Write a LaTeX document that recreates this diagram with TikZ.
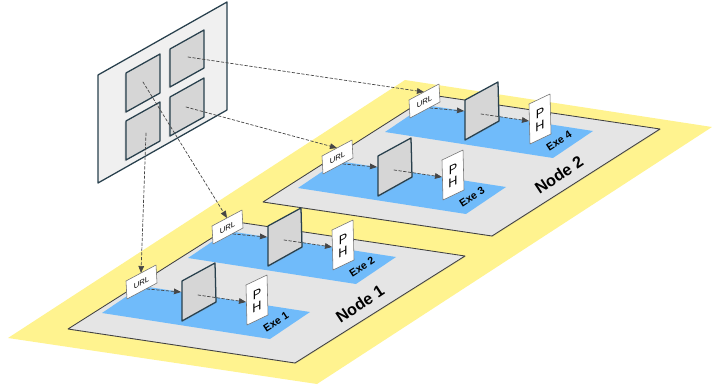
\documentclass[tikz,border=0pt]{standalone}
\usepackage{fontspec}
\setmainfont{Liberation Sans}
\usepackage{tikz}
\usepackage{tkz-euclide}
\usepackage{xcolor}
\usetikzlibrary{arrows.meta,shadows}

\definecolor{bandyellow}{RGB}{255,243,143}
\definecolor{plategray}{RGB}{229,229,229}
\definecolor{exeblue}{RGB}{112,187,250}
\definecolor{panelgray}{RGB}{214,214,214}
\definecolor{slate}{RGB}{40,64,77}
\definecolor{framegray}{RGB}{240,240,240}
\definecolor{flowgray}{RGB}{70,70,70}

\tikzset{
  band/.style={fill=bandyellow,draw=none},
  nodeplate/.style={fill=plategray,draw=black!75,line width=0.6pt,
    drop shadow={opacity=0.25,shadow xshift=0.5pt,shadow yshift=-0.5pt}},
  exearea/.style={fill=exeblue,draw=none},
  urlcard/.style={fill=white,draw=black!55,line width=0.4pt},
  phcard/.style={fill=white,draw=black!55,line width=0.4pt},
  exepanel/.style={fill=panelgray,draw=slate,line width=0.9pt,
    drop shadow={opacity=0.25,shadow xshift=0.6pt,shadow yshift=-0.6pt}},
  winframe/.style={fill=framegray,draw=slate,line width=0.9pt},
  winpane/.style={fill=panelgray,draw=slate,line width=0.9pt,
    drop shadow={opacity=0.3,shadow xshift=-1pt,shadow yshift=-1pt}},
  flow/.style={draw=flowgray,line width=0.5pt,dash pattern=on 2pt off 1.4pt,
    -{Triangle[length=5pt,width=4pt]}},
  urltext/.style={font=\fontsize{5.5}{6}\selectfont,yslant=0.53,inner sep=0pt},
  phtext/.style={font=\fontsize{9}{10}\selectfont,yslant=0.48,inner sep=0pt},
  exetext/.style={font=\fontsize{7.5}{8}\selectfont\bfseries,rotate=33,inner sep=0pt},
  nodetext/.style={font=\fontsize{11.5}{12}\selectfont\bfseries,rotate=33.5,inner sep=0pt}
}

\begin{document}
\begin{tikzpicture}[x=0.025cm,y=-0.025cm]
	\useasboundingbox (0,0) rectangle (712,387);
	% floor band and the two nodes
	\tkzDefPoints{8/338/Y1,317/384/Y2,712/127/Y3,405/80/Y4}
	\tkzDrawPolygon[band](Y1,Y2,Y3,Y4)
	\tkzDefPoints{68/329/N1,295/363/N2,465/256/N3,237/222/N4}
	\tkzDefPoints{263/202/M1,492/236/M2,660/129/M3,431/95/M4}
	\tkzDrawPolygon[nodeplate](M1,M2,M3,M4)
	\tkzDrawPolygon[nodeplate](N1,N2,N3,N4)
	\node[nodetext] (node1) at (360,304) {Node 1};
	\node[nodetext] (node2) at (559,175) {Node 2};
	% one executor per step, back to front
	\foreach \n/\dx/\dy in {4/283/-181,3/196/-125,2/86/-55,1/0/0}{
	\begin{scope}[shift={(\dx,\dy)}]
		\tkzDefPoints{102/313/BA,270/339/BB,310/312/BC,142/286/BD}
		\tkzDrawPolygon[exearea](BA,BB,BC,BD)
		\tkzDefPoints{126/281/UA,156/265/UB,157/283/UC,127/299/UD}
		\tkzDrawPolygon[urlcard](UA,UB,UC,UD)
		\node[urltext] (urllbl\n) at (141.5,283) {URL};
		\coordinate (url\n) at (141,273);
		\tkzDefPoints{147/289/US,181/292/PL,198/295/PM,246/302/HL}
		\tkzDrawSegments[flow](US,PL)
		\tkzDefPoints{182/281/PA,215/263/PB,216/302/PC,182/321/PD}
		\tkzDrawPolygon[exepanel](PA,PB,PC,PD)
		\tkzDrawSegments[flow](PM,HL)
		\tkzDefPoints{246/285/HA,267/275/HB,268/315/HC,247/325/HD}
		\tkzDrawPolygon[phcard](HA,HB,HC,HD)
		\node[phtext] (plbl\n) at (257,294) {P};
		\node[phtext] (hlbl\n) at (257,307) {H};
		\node[exetext] (exelbl\n) at (276,322) {Exe \n};
	\end{scope}
	}
	% the split screen
	\tkzDefPoints{98/75/WA,227/2/WB,227/110/WC,98/183/WD}
	\tkzDrawPolygon[winframe](WA,WB,WC,WD)
	\tkzDefPoints{126/73/A1,160/54/A2,160/93/A3,126/112/A4}
	\tkzDefPoints{170/49/B1,204/30/B2,204/68/B3,170/87/B4}
	\tkzDefPoints{126/121/C1,160/102/C2,160/141/C3,126/160/C4}
	\tkzDefPoints{170/97/D1,204/78/D2,204/117/D3,170/136/D4}
	\tkzDrawPolygon[winpane](A1,A2,A3,A4)
	\tkzDrawPolygon[winpane](B1,B2,B3,B4)
	\tkzDrawPolygon[winpane](C1,C2,C3,C4)
	\tkzDrawPolygon[winpane](D1,D2,D3,D4)
	\tkzDefPoints{146/133/s1,143/82/s2,186/107/s3,188/57/s4}
	\tkzDrawSegments[flow](s1,url1 s2,url2 s3,url3 s4,url4)
\end{tikzpicture}
\end{document}
